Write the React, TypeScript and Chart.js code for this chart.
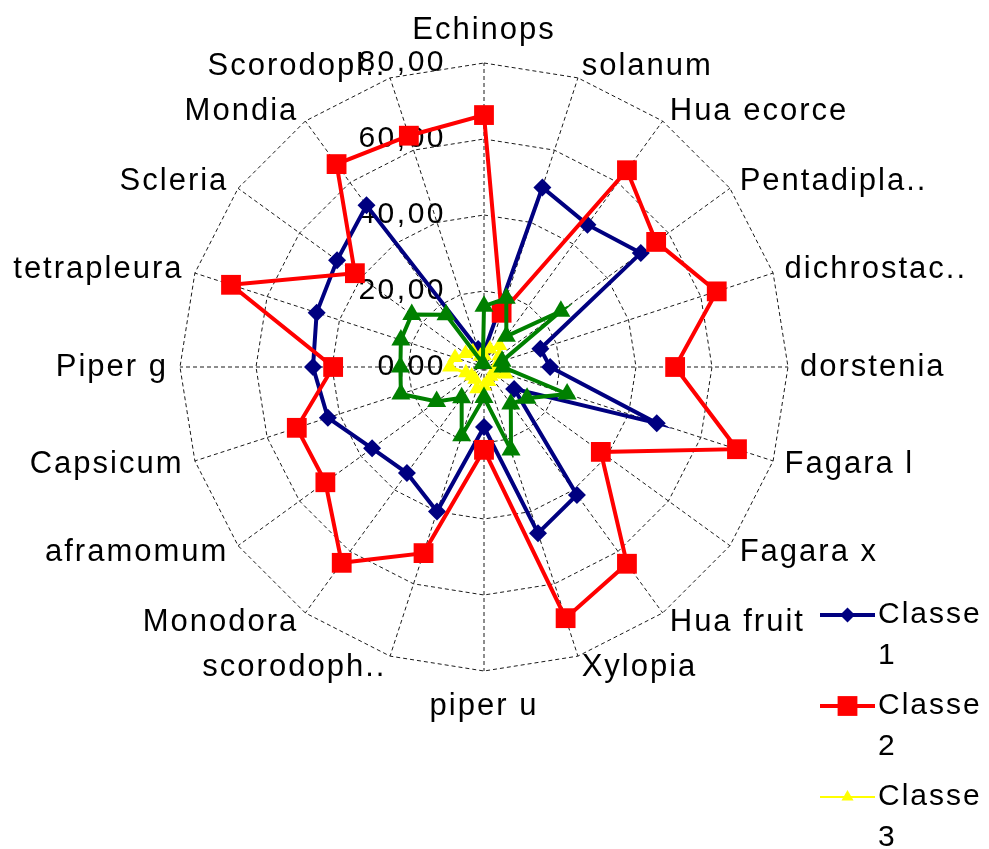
import React, { useEffect, useRef } from 'react';
import { Chart, registerables } from 'chart.js';

Chart.register(...registerables);

const categories = [
  'Echinops', 'solanum', 'Hua ecorce', 'Pentadipla..', 'dichrostac..', 'dorstenia',
  'Fagara l', 'Fagara x', 'Hua fruit', 'Xylopia', 'piper u', 'scorodoph..',
  'Monodora', 'aframomum', 'Capsicum', 'Piper g', 'tetrapleura', 'Scleria',
  'Mondia', 'Scorodopl..',
];

const classe1 = [4, 49.7, 46.3, 51, 15.6, 17.4, 47.8, 9.8, 41.6, 46, 15.8, 40, 34.5, 36.4, 43.2, 45, 46.3, 47.8, 52.6, 5];
const classe2 = [66.3, 15, 64, 56, 64.4, 50.3, 70, 38, 64, 69.5, 21.8, 51.5, 63.7, 51.6, 51.8, 39.7, 70, 42, 66, 64];
const classe3 = [3, 5, 7, 5, 4, 4, 6, 3, 3, 4, 5, 6, 4, 4, 5, 9, 8, 6, 5, 3];
const classe4 = [16, 19, 10, 25, 5, 5, 23, 14, 12, 23, 8, 19, 10, 15.4, 23, 22, 23, 23.5, 17, 1];

const seriesNames = ['Classe 1', 'Classe 2', 'Classe 3', 'Classe 4'];
const seriesColors = ['#000080', '#FF0000', '#FFFF00', '#008000'];
const seriesData = [classe1, classe2, classe3, classe4];
const seriesStyles = ['rectRot', 'rect', 'triangle', 'triangle'];
const seriesRadius = [9, 14, 9, 11];
const seriesWidth = [4, 4, 3, 4];

const tickValues = [0, 20, 40, 60, 80];
const tickLabels = ['0,00', '20,00', '40,00', '60,00', '80,00'];

const FONT = '"Liberation Sans", Arial, sans-serif';

function drawMarker(ctx: CanvasRenderingContext2D, style: string, x: number, y: number, r: number) {
  ctx.beginPath();
  if (style === 'rectRot') {
    ctx.moveTo(x, y - r);
    ctx.lineTo(x + r, y);
    ctx.lineTo(x, y + r);
    ctx.lineTo(x - r, y);
  } else if (style === 'rect') {
    const s = r * Math.SQRT1_2;
    ctx.rect(x - s, y - s, 2 * s, 2 * s);
  } else {
    const a = -Math.PI / 2;
    for (let k = 0; k < 3; k++) {
      const t = a + (k * 2 * Math.PI) / 3;
      const px = x + Math.cos(t) * r;
      const py = y + Math.sin(t) * r;
      if (k === 0) ctx.moveTo(px, py);
      else ctx.lineTo(px, py);
    }
  }
  ctx.closePath();
  ctx.fill();
}

const excelPlugin = {
  id: 'excelLabels',
  beforeDatasetsDraw(chart: any) {
    const scale = chart.scales.r;
    const ctx: CanvasRenderingContext2D = chart.ctx;
    ctx.save();
    ctx.fillStyle = '#000';
    // category labels
    ctx.font = `31px ${FONT}`;
    (ctx as any).letterSpacing = '2px';
    categories.forEach((lab, i) => {
      const ang = scale.getIndexAngle(i);
      const deg = Math.round((ang * 180) / Math.PI) % 360;
      const pos = scale.getPointPosition(i, scale.drawingArea + 12);
      const x = pos.x;
      let y = pos.y;
      ctx.textBaseline = 'middle';
      if (deg === 0) {
        ctx.textAlign = 'center';
        y -= 21;
      } else if (deg === 180) {
        ctx.textAlign = 'center';
        y += 23;
      } else if (deg < 180) {
        ctx.textAlign = 'left';
      } else {
        ctx.textAlign = 'right';
      }
      ctx.fillText(lab, x, y);
    });
    // tick labels
    ctx.font = `30px ${FONT}`;
    (ctx as any).letterSpacing = '2.5px';
    ctx.textAlign = 'right';
    ctx.textBaseline = 'middle';
    tickValues.forEach((v, i) => {
      const d = scale.getDistanceFromCenterForValue(v);
      ctx.fillText(tickLabels[i], scale.xCenter - 38, scale.yCenter - d);
    });
    ctx.restore();
  },
  afterDraw(chart: any) {
    const ctx: CanvasRenderingContext2D = chart.ctx;
    ctx.save();
    const x1 = 820;
    const x2 = 875;
    const y0 = 615;
    const step = 91;
    const legendRadius = [7.5, 14, 7, 9];
    const legendWidth = [4, 4, 2, 4];
    seriesNames.forEach((name, k) => {
      const y = y0 + k * step;
      ctx.strokeStyle = seriesColors[k];
      ctx.fillStyle = seriesColors[k];
      ctx.lineWidth = legendWidth[k];
      ctx.beginPath();
      ctx.moveTo(x1, y);
      ctx.lineTo(x2, y);
      ctx.stroke();
      drawMarker(ctx, seriesStyles[k], (x1 + x2) / 2, y, legendRadius[k]);
      const parts = name.split(' ');
      ctx.fillStyle = '#000';
      ctx.font = `30px ${FONT}`;
      (ctx as any).letterSpacing = '2px';
      ctx.textAlign = 'left';
      ctx.textBaseline = 'middle';
      ctx.fillText(parts[0], 878, y);
      ctx.fillText(parts[1], 878, y + 41);
    });
    ctx.restore();
  },
};

export default function App() {
  const ref = useRef<HTMLCanvasElement>(null);
  useEffect(() => {
    if (!ref.current) return;
    const chart = new Chart(ref.current, {
      type: 'radar',
      data: {
        labels: categories,
        datasets: seriesNames.map((name, k) => ({
          label: name,
          data: seriesData[k],
          borderColor: seriesColors[k],
          backgroundColor: seriesColors[k],
          pointBackgroundColor: seriesColors[k],
          pointBorderColor: seriesColors[k],
          pointBorderWidth: 0,
          borderWidth: seriesWidth[k],
          pointStyle: seriesStyles[k] as any,
          pointRadius: seriesRadius[k],
          fill: false,
          tension: 0,
          order: 3 - k,
        })),
      },
      options: {
        responsive: false,
        animation: false,
        devicePixelRatio: 1,
        layout: { padding: { left: 180, right: 201, top: 63, bottom: 178 } },
        plugins: { legend: { display: false }, tooltip: { enabled: false }, title: { display: false } },
        scales: {
          r: {
            min: 0,
            max: 80,
            ticks: { display: false, stepSize: 20 },
            pointLabels: { display: false },
            grid: { circular: false, color: '#1a1a1a', lineWidth: 1 },
            border: { dash: [4, 3] },
            angleLines: { color: '#1a1a1a', lineWidth: 1, borderDash: [4, 3] },
          },
        },
      },
      plugins: [excelPlugin],
    });
    return () => chart.destroy();
  }, []);
  return (
    <div style={{ position: 'absolute', left: 0, top: 0, width: 989, height: 849, background: '#fff', overflow: 'hidden' }}>
      <canvas ref={ref} width={989} height={849} style={{ display: 'block' }} />
    </div>
  );
}
